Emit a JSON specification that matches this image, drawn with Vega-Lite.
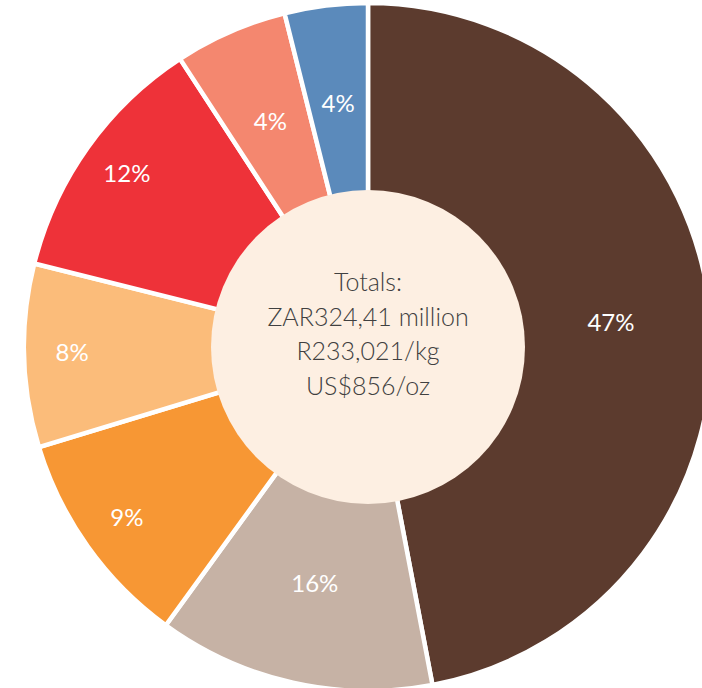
{
  "$schema": "https://vega.github.io/schema/vega-lite/v6.json",
  "width": 668,
  "height": 682,
  "padding": {"left": 34, "top": 6, "right": 0, "bottom": 0},
  "autosize": {"type": "none"},
  "background": "white",
  "config": {"view": {"stroke": null}},
  "datasets": {
    "slices": [
      {"i": 1, "segment": "Segment 1", "share": 47.0, "label": "47%"},
      {"i": 2, "segment": "Segment 2", "share": 13.0, "label": "16%"},
      {"i": 3, "segment": "Segment 3", "share": 10.3, "label": "9%"},
      {"i": 4, "segment": "Segment 4", "share": 8.6, "label": "8%"},
      {"i": 5, "segment": "Segment 5", "share": 11.9, "label": "12%"},
      {"i": 6, "segment": "Segment 6", "share": 5.3, "label": "4%"},
      {"i": 7, "segment": "Segment 7", "share": 3.9, "label": "4%"}
    ],
    "totals": [
      {"t": "Totals:\nZAR324,41 million\nR233,021/kg\nUS$856/oz"}
    ]
  },
  "layer": [
    {
      "data": {"name": "slices"},
      "mark": {"type": "arc", "outerRadius": 344, "innerRadius": 0, "stroke": "white", "strokeWidth": 4.5},
      "encoding": {
        "theta": {"field": "share", "type": "quantitative", "stack": true},
        "order": {"field": "i", "type": "quantitative"},
        "color": {
          "field": "segment",
          "type": "nominal",
          "legend": null,
          "scale": {
            "domain": ["Segment 1", "Segment 2", "Segment 3", "Segment 4", "Segment 5", "Segment 6", "Segment 7"],
            "range": ["#5C3B2E", "#C6B2A5", "#F79734", "#FBBC7A", "#EE3239", "#F4876F", "#5B8ABB"]
          }
        }
      }
    },
    {
      "data": {"name": "totals"},
      "mark": {"type": "arc", "theta": 0, "theta2": 6.2832, "outerRadius": 157, "innerRadius": 0, "fill": "#FDEFE2"},
      "encoding": {}
    },
    {
      "data": {"name": "totals"},
      "mark": {"type": "text", "font": "Lato", "fontSize": 25, "fontWeight": 300, "color": "#404040", "lineBreak": "\n", "lineHeight": 34.5, "align": "center", "baseline": "middle", "dy": -64},
      "encoding": {"text": {"field": "t", "type": "nominal"}}
    },
    {
      "data": {"name": "slices"},
      "mark": {"type": "text", "radius": 244, "font": "Lato", "fontSize": 24, "color": "white", "align": "center", "baseline": "middle"},
      "encoding": {
        "theta": {"field": "share", "type": "quantitative", "stack": true},
        "order": {"field": "i", "type": "quantitative"},
        "text": {"condition": {"test": "datum.i == 1 || datum.i == 2 || datum.i == 6 || datum.i == 7", "field": "label"}, "value": ""}
      }
    },
    {
      "data": {"name": "slices"},
      "mark": {"type": "text", "radius": 296, "font": "Lato", "fontSize": 24, "color": "white", "align": "center", "baseline": "middle"},
      "encoding": {
        "theta": {"field": "share", "type": "quantitative", "stack": true},
        "order": {"field": "i", "type": "quantitative"},
        "text": {"condition": {"test": "datum.i == 3 || datum.i == 4 || datum.i == 5", "field": "label"}, "value": ""}
      }
    }
  ]
}
